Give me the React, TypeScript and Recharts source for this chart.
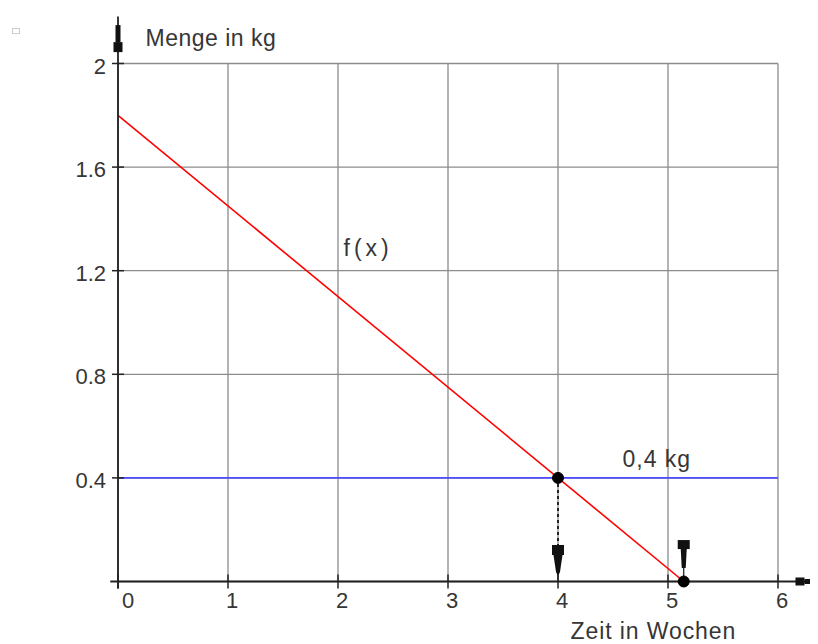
import React from 'react';
import { ComposedChart, Line, XAxis, YAxis, CartesianGrid, ReferenceLine, ReferenceDot } from 'recharts';

// axis ticks
const xTicks = [0, 1, 2, 3, 4, 5, 6];
const yTicks = [0, 0.4, 0.8, 1.2, 1.6, 2];

// f(x): straight line, starts at 1.8 kg, empty after ~5.14 weeks
const fxWeeks = [0, 5.143];
const fxKg = [1.8, 0];

// 0,4 kg limit and the two marked points
const limitKg = 0.4;
const markWeeks = [4, 5.143];
const markKg = [0.4, 0];

const fxData = fxWeeks.map((x, i) => ({ x, y: fxKg[i] }));

const FONT = '"Liberation Sans", Arial, sans-serif';
const INK = '#363636';

const XTick = (props: any) => {
    const { x, y, payload } = props;
    const dx = payload.value === 0 ? 10 : 4;
    return (
        <g>
            <line x1={x} x2={x} y1={y - 7} y2={y + 7} stroke="#222" strokeWidth={1.5} />
            <text x={x + dx} y={y + 26.5} textAnchor="middle" fontSize={22} fontFamily={FONT} fill={INK}>
                {payload.value}
            </text>
        </g>
    );
};

const YTick = (props: any) => {
    const { x, y, payload } = props;
    if (payload.value === 0) return <g />;
    return (
        <g>
            <line x1={x - 6} x2={x + 6} y1={y} y2={y} stroke="#222" strokeWidth={1.5} />
            <text x={x - 12} y={y + 10} textAnchor="end" fontSize={22} fontFamily={FONT} fill={INK}>
                {payload.value}
            </text>
        </g>
    );
};

const label = (txt: string, spacing = 0.5) => (p: any) => (
    <text x={p.cx} y={p.cy} fontSize={23} fontFamily={FONT} fill={INK} letterSpacing={spacing}>
        {txt}
    </text>
);

const UpAxisArrow = (p: any) => (
    <g fill="#111">
        <rect x={p.cx - 4.5} y={p.cy - 10} width={9} height={10} />
        <rect x={p.cx - 2.5} y={p.cy - 27} width={5} height={17} />
    </g>
);

const RightAxisArrow = (p: any) => (
    <g fill="#111">
        <rect x={p.cx} y={p.cy - 4} width={9} height={8} />
        <rect x={p.cx + 9} y={p.cy - 2.5} width={15} height={5} />
    </g>
);

const DownArrow = (p: any) => (
    <g fill="#111">
        <rect x={p.cx - 6} y={p.cy} width={12} height={10} />
        <polygon
            points={`${p.cx - 4.5},${p.cy + 10} ${p.cx + 4.5},${p.cy + 10} ${p.cx + 2},${p.cy + 27} ${p.cx},${p.cy + 31} ${p.cx - 2},${p.cy + 27}`}
        />
        <line x1={p.cx} x2={p.cx} y1={p.cy + 28} y2={p.cy + 37} stroke="#111" strokeWidth={1} />
    </g>
);

const UpArrow = (p: any) => (
    <g fill="#111">
        <rect x={p.cx - 6} y={p.cy} width={12} height={9} />
        <polygon
            points={`${p.cx - 3},${p.cy + 9} ${p.cx + 3},${p.cy + 9} ${p.cx + 2},${p.cy + 28} ${p.cx - 2},${p.cy + 28}`}
        />
        <line x1={p.cx} x2={p.cx} y1={p.cy + 28} y2={p.cy + 40} stroke="#111" strokeWidth={1.2} />
    </g>
);

export default function App() {
    return (
        <div style={{ position: 'relative', width: 810, height: 636 }}>
            <div style={{ position: 'absolute', left: 4, top: 20, width: 6, height: 4, border: '1px solid #ccc' }} />
            <ComposedChart
                width={810}
                height={636}
                data={fxData}
                margin={{ top: 55.5, right: 40, bottom: 32.5, left: 50 }}
                style={{ overflow: 'visible' }}
            >
                <CartesianGrid stroke="#8c8c8c" strokeWidth={1.3} />
                <XAxis
                    type="number"
                    dataKey="x"
                    domain={[0, 6]}
                    ticks={xTicks}
                    height={30}
                    axisLine={false}
                    tickLine={false}
                    tickSize={0}
                    tickMargin={0}
                    tick={(p: any) => <XTick {...p} />}
                    interval={0}
                />
                <YAxis
                    type="number"
                    domain={[0, 2]}
                    ticks={yTicks}
                    width={60}
                    axisLine={false}
                    tickLine={false}
                    tickSize={0}
                    tickMargin={0}
                    tick={(p: any) => <YTick {...p} />}
                    interval={0}
                />
                <ReferenceLine y={limitKg} stroke="#4b4bff" strokeWidth={1.6} />
                <Line
                    data={fxData}
                    dataKey="y"
                    type="linear"
                    stroke="#ff0000"
                    strokeWidth={1.6}
                    dot={false}
                    isAnimationActive={false}
                />
                <ReferenceLine
                    segment={[{ x: markWeeks[0], y: markKg[0] }, { x: markWeeks[0], y: 0.141 }]}
                    stroke="#222"
                    strokeWidth={2}
                    strokeDasharray="3 3"
                    ifOverflow="visible"
                />
                {/* axes with overhang */}
                <ReferenceLine
                    segment={[{ x: -0.07, y: 0 }, { x: 6.34, y: 0 }]}
                    stroke="#222"
                    strokeWidth={1.8}
                    ifOverflow="visible"
                />
                <ReferenceLine
                    segment={[{ x: 0, y: -0.027 }, { x: 0, y: 2.181 }]}
                    stroke="#222"
                    strokeWidth={1.8}
                    ifOverflow="visible"
                />
                <ReferenceDot x={0} y={2.044} ifOverflow="visible" shape={UpAxisArrow} />
                <ReferenceDot x={6.159} y={0} ifOverflow="visible" shape={RightAxisArrow} />
                <ReferenceDot x={markWeeks[0]} y={0.141} ifOverflow="visible" shape={DownArrow} />
                <ReferenceDot x={markWeeks[1]} y={0.16} ifOverflow="visible" shape={UpArrow} />
                {markWeeks.map((w, i) => (
                    <ReferenceDot key={i} x={w} y={markKg[i]} r={5.5} fill="#000" stroke="#000" ifOverflow="visible" />
                ))}
                <ReferenceDot x={0.25} y={2.068} ifOverflow="visible" shape={label('Menge in kg')} />
                <ReferenceDot x={4.114} y={-0.222} ifOverflow="visible" shape={label('Zeit in Wochen', 0.9)} />
                <ReferenceDot x={2.05} y={1.257} ifOverflow="visible" shape={label('f(x)', 4)} />
                <ReferenceDot x={4.586} y={0.442} ifOverflow="visible" shape={label('0,4 kg', 1)} />
            </ComposedChart>
        </div>
    );
}
